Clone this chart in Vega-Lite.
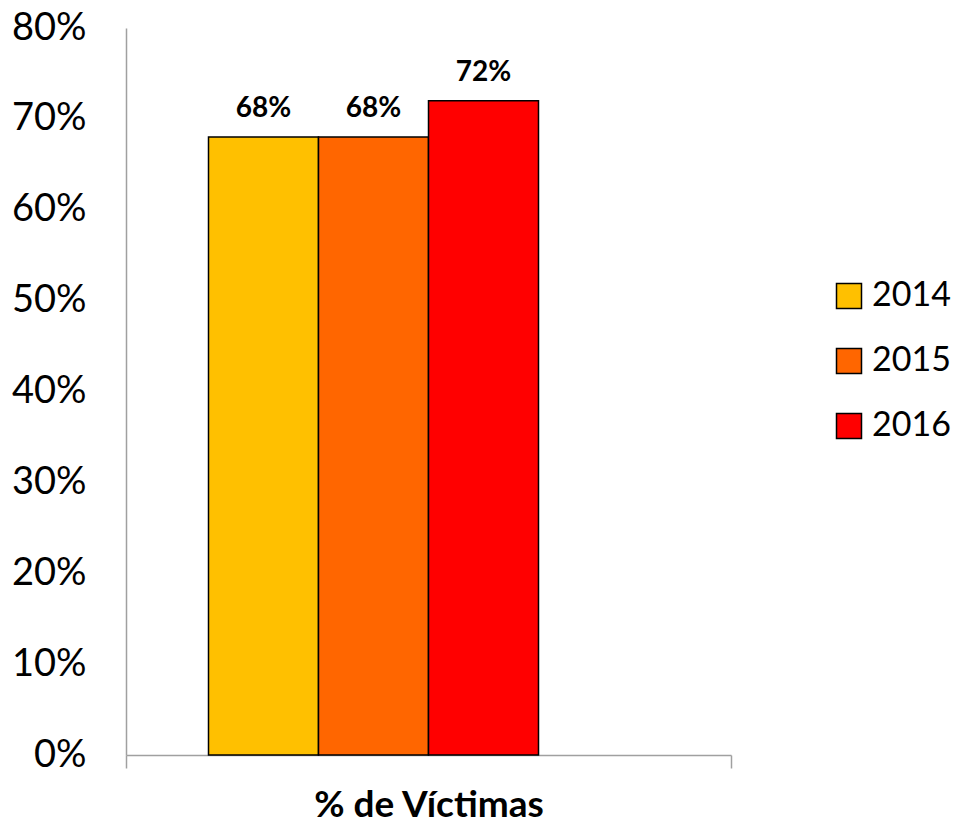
{
  "$schema": "https://vega.github.io/schema/vega-lite/v6.json",
  "width": 605,
  "height": 727,
  "autosize": "none",
  "padding": {"left": 126, "top": 28, "right": 229, "bottom": 71},
  "config": {"font": "Lato", "view": {"stroke": null}},
  "data": {
    "values": [
      {"cat": "% de Víctimas", "year": "2014", "value": 0.68},
      {"cat": "% de Víctimas", "year": "2015", "value": 0.68},
      {"cat": "% de Víctimas", "year": "2016", "value": 0.72}
    ]
  },
  "encoding": {
    "x": {
      "field": "cat",
      "type": "nominal",
      "scale": {"paddingInner": 0, "paddingOuter": 0},
      "axis": {
        "labels": false,
        "title": "% de Víctimas",
        "titleFont": "Lato",
        "titleFontSize": 37,
        "titleFontWeight": "bold",
        "titleColor": "black",
        "titlePadding": 19,
        "domainColor": "#a0a0a0",
        "domainWidth": 1.5,
        "tickColor": "#a0a0a0",
        "tickWidth": 1.5,
        "tickSize": 13,
        "bandPosition": 1,
        "tickExtra": true
      }
    },
    "xOffset": {
      "field": "year",
      "type": "nominal",
      "scale": {"domain": ["2014", "2015", "2016", "pad"], "paddingInner": 0, "paddingOuter": 0.75}
    },
    "y": {
      "field": "value",
      "type": "quantitative",
      "scale": {"domain": [0, 0.8]},
      "axis": {
        "title": null,
        "values": [0, 0.1, 0.2, 0.3, 0.4, 0.5, 0.6, 0.7, 0.8],
        "format": ".0%",
        "grid": false,
        "ticks": false,
        "labelFont": "Lato",
        "labelFontSize": 38,
        "labelColor": "black",
        "labelPadding": 40,
        "domainColor": "#a0a0a0",
        "domainWidth": 1.5
      }
    }
  },
  "layer": [
    {
      "mark": {"type": "bar", "stroke": "black", "strokeWidth": 1.5},
      "encoding": {
        "color": {
          "field": "year",
          "type": "nominal",
          "scale": {"domain": ["2014", "2015", "2016"], "range": ["#FFC000", "#FF6600", "#FF0000"]},
          "legend": {
            "title": null,
            "orient": "none",
            "legendX": 706,
            "legendY": 251,
            "symbolType": "square",
            "symbolSize": 625,
            "symbolStrokeColor": "black",
            "symbolStrokeWidth": 1.5,
            "symbolOpacity": 1,
            "labelFont": "Lato",
            "labelFontSize": 34,
            "labelColor": "black",
            "labelOffset": 6,
            "rowPadding": 31
          }
        }
      }
    },
    {
      "mark": {"type": "text", "dy": -20, "baseline": "alphabetic", "fontWeight": "bold", "fontSize": 28, "font": "Lato", "color": "black"},
      "encoding": {"text": {"field": "value", "type": "quantitative", "format": ".0%"}}
    }
  ]
}
